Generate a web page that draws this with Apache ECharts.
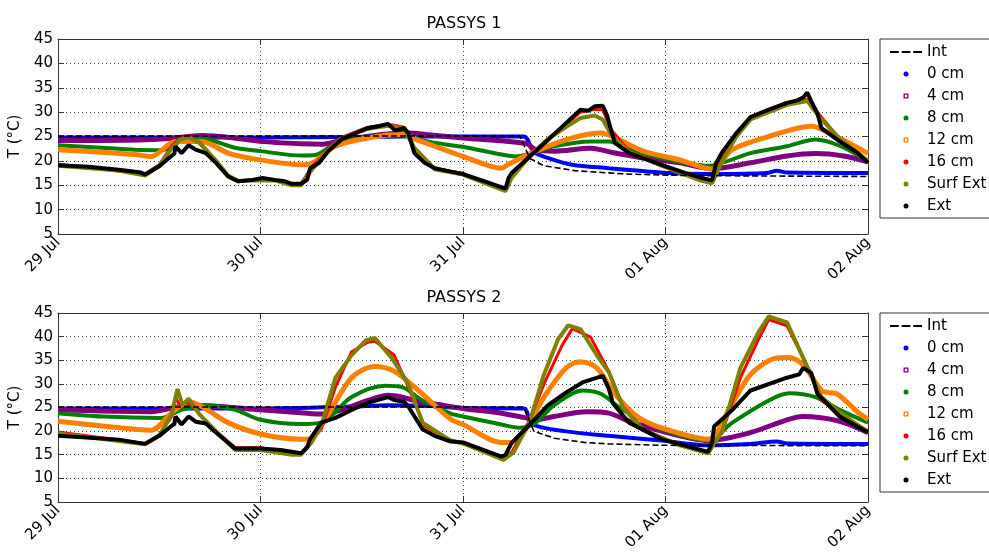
<!DOCTYPE html>
<html>
<head>
<meta charset="utf-8">
<script src="https://cdn.jsdelivr.net/npm/echarts@6/dist/echarts.min.js"></script>
<style>html,body{margin:0;padding:0;background:#fff}#c{width:989px;height:553px}</style>
</head>
<body>
<div id="c"></div>
<script>
// ---- Data (x = days since 29 Jul 00:00, y = °C) ----
const xTickLabels = ['29 Jul', '30 Jul', '31 Jul', '01 Aug', '02 Aug'];
const titles = ['PASSYS 1', 'PASSYS 2'];
const seriesNames = ['Int', '0 cm', '4 cm', '8 cm', '12 cm', '16 cm', 'Surf Ext', 'Ext'];

// PASSYS 1
const p1Int = [[0,25.1],[2.28,25.1],[2.33,20.5],[2.4,19.0],[2.55,18.0],[2.8,17.3],[3.1,17.0],[3.5,16.9],[4,16.8]];
const p1Cm0 = [[0,24.8],[1.0,24.8],[1.5,24.9],[1.7,25.0],[2.0,25.0],[2.3,25.0],[2.35,21.8],[2.42,20.6],[2.54,19.2],[2.72,18.5],[2.89,17.9],[3.07,17.4],[3.24,17.3],[3.5,17.5],[3.55,18.0],[3.6,17.6],[4.0,17.5]];
const p1Cm4 = [[0,24.2],[0.4,24.3],[0.55,24.6],[0.71,25.2],[0.85,24.8],[1.0,24.0],[1.2,23.5],[1.3,23.4],[1.4,24.2],[1.6,25.4],[1.73,25.7],[1.84,25.3],[2.0,24.7],[2.31,23.6],[2.36,22.3],[2.45,22.0],[2.63,22.6],[2.75,21.6],[2.89,20.6],[3.07,19.6],[3.23,18.4],[3.42,19.6],[3.6,21.0],[3.74,21.5],[3.88,21.0],[4.0,19.8]];
const p1Cm8 = [[0,23.2],[0.38,22.3],[0.51,22.2],[0.645,24.6],[0.74,24.4],[0.875,22.7],[1.0,22.0],[1.2,21.1],[1.27,21.2],[1.37,23.5],[1.53,24.9],[1.7,25.4],[1.8,24.2],[1.94,23.2],[2.0,22.9],[2.19,21.3],[2.26,20.9],[2.33,21.5],[2.45,23.0],[2.63,24.0],[2.72,24.0],[2.82,22.4],[2.98,20.6],[3.21,19.0],[3.42,21.6],[3.6,23.0],[3.74,24.4],[3.86,23.1],[4.0,19.9]];
const p1Cm12 = [[0,22.3],[0.38,21.3],[0.46,20.9],[0.58,24.0],[0.71,24.0],[0.84,21.6],[1.0,20.2],[1.2,19.2],[1.24,19.3],[1.37,23.0],[1.53,24.7],[1.7,25.4],[1.78,24.2],[1.94,21.8],[2.0,20.9],[2.19,18.5],[2.22,19.2],[2.36,22.0],[2.54,24.7],[2.68,25.7],[2.75,24.8],[2.89,22.0],[3.07,20.2],[3.23,18.3],[3.33,22.3],[3.51,25.0],[3.72,27.1],[3.81,25.7],[4.0,21.5]];
const p1Cm16 = [[0,19.3],[0.43,17.3],[0.5,19.2],[0.56,23.0],[0.6,24.6],[0.645,25.0],[0.7,23.8],[0.78,20.2],[0.84,17.0],[0.89,16.0],[1.07,16.2],[1.155,15.3],[1.2,15.3],[1.25,18.5],[1.335,22.5],[1.4,24.8],[1.53,26.9],[1.63,27.5],[1.71,26.9],[1.76,22.8],[1.86,18.5],[2.0,17.4],[2.21,14.2],[2.24,17.0],[2.33,21.2],[2.42,24.6],[2.51,27.6],[2.58,30.0],[2.65,30.6],[2.69,30.5],[2.73,26.5],[2.82,22.0],[2.98,19.2],[3.17,16.5],[3.23,15.9],[3.28,20.5],[3.35,25.5],[3.42,29.0],[3.6,32.0],[3.7,32.6],[3.75,30.0],[3.86,24.5],[4.0,20.0]];
const p1Surf = [[0,19.0],[0.3,18.0],[0.43,17.0],[0.5,19.0],[0.56,22.5],[0.6,24.3],[0.645,24.8],[0.7,23.6],[0.78,20.0],[0.84,17.0],[0.89,15.8],[0.96,16.0],[1.07,16.0],[1.155,15.0],[1.2,15.0],[1.25,18.0],[1.335,22.2],[1.4,24.6],[1.53,26.6],[1.63,27.2],[1.71,26.6],[1.76,22.5],[1.86,18.3],[2.0,17.2],[2.21,13.8],[2.24,16.5],[2.33,21.0],[2.42,24.5],[2.51,27.0],[2.58,28.8],[2.65,29.3],[2.69,28.5],[2.73,25.5],[2.82,21.8],[2.98,19.0],[3.17,16.0],[3.23,15.4],[3.28,20.0],[3.35,25.0],[3.42,28.5],[3.6,31.5],[3.7,32.3],[3.75,29.5],[3.86,24.5],[4.0,20.0]];
const p1Ext = [[0,19.1],[0.15,18.8],[0.3,18.2],[0.41,17.6],[0.43,17.2],[0.5,18.9],[0.56,21.0],[0.575,21.5],[0.58,23.0],[0.61,21.6],[0.63,22.5],[0.645,23.2],[0.68,22.3],[0.73,21.6],[0.78,19.6],[0.84,16.8],[0.89,15.8],[0.96,16.1],[1.01,16.5],[1.07,16.1],[1.12,15.8],[1.155,15.3],[1.2,15.3],[1.23,16.1],[1.245,18.5],[1.29,19.6],[1.335,22.0],[1.4,24.4],[1.47,25.7],[1.53,26.7],[1.58,27.1],[1.63,27.6],[1.665,26.2],[1.69,26.5],[1.71,26.7],[1.73,25.7],[1.76,21.6],[1.81,19.6],[1.86,18.5],[1.94,17.8],[2.0,17.3],[2.1,15.9],[2.21,14.3],[2.225,16.5],[2.24,17.5],[2.33,20.9],[2.42,24.3],[2.51,27.8],[2.58,30.5],[2.62,30.3],[2.65,31.2],[2.69,31.3],[2.71,29.5],[2.73,26.5],[2.75,23.7],[2.82,21.6],[2.98,19.2],[3.1,17.5],[3.17,16.6],[3.23,16.0],[3.25,19.5],[3.28,21.8],[3.35,25.7],[3.42,29.0],[3.51,30.5],[3.6,31.9],[3.65,32.4],[3.68,33.0],[3.7,34.0],[3.72,32.2],[3.75,29.8],[3.77,26.7],[3.86,24.0],[3.95,21.6],[4.0,19.6]];

// PASSYS 2
const p2Int = [[0,25.1],[2.3,25.1],[2.35,20.0],[2.45,18.5],[2.6,17.6],[2.72,17.3],[2.98,17.0],[4.0,16.9]];
const p2Cm0 = [[0,24.8],[1.0,24.8],[1.45,25.2],[1.63,25.5],[1.84,25.3],[2.0,24.9],[2.3,24.8],[2.34,21.5],[2.5,20.0],[2.72,19.0],[2.98,18.0],[3.21,17.0],[3.42,17.3],[3.55,17.8],[3.6,17.4],[4.0,17.3]];
const p2Cm4 = [[0,24.5],[0.46,24.1],[0.645,25.5],[0.8,25.2],[1.0,24.5],[1.2,23.9],[1.3,23.6],[1.4,24.5],[1.53,26.5],[1.63,27.6],[1.7,27.2],[1.78,26.2],[1.84,25.9],[2.0,24.8],[2.19,23.8],[2.31,22.8],[2.36,22.4],[2.45,23.1],[2.61,24.1],[2.72,23.8],[2.82,22.1],[2.98,20.0],[3.21,18.0],[3.42,19.7],[3.6,22.4],[3.68,23.1],[3.86,22.1],[4.0,19.7]];
const p2Cm8 = [[0,23.8],[0.22,23.1],[0.51,22.8],[0.61,24.5],[0.74,25.5],[0.875,24.5],[1.0,22.4],[1.2,21.5],[1.3,21.8],[1.45,27.2],[1.615,29.6],[1.7,29.3],[1.8,26.5],[1.94,23.7],[2.0,23.1],[2.19,21.4],[2.28,20.7],[2.36,21.8],[2.45,25.5],[2.59,28.6],[2.68,27.9],[2.79,24.5],[2.98,20.4],[3.21,18.0],[3.33,21.8],[3.51,26.5],[3.61,28.0],[3.74,27.2],[3.86,24.5],[4.0,21.8]];
const p2Cm12 = [[0,22.1],[0.22,21.1],[0.46,20.2],[0.56,23.8],[0.645,26.2],[0.71,25.2],[0.84,21.8],[1.0,19.4],[1.2,18.3],[1.24,18.3],[1.3,21.1],[1.45,31.3],[1.565,33.7],[1.66,32.7],[1.78,28.6],[1.94,22.5],[2.0,21.4],[2.19,17.6],[2.24,17.6],[2.31,20.4],[2.4,27.2],[2.51,33.4],[2.58,34.7],[2.66,33.4],[2.75,27.9],[2.86,23.1],[2.98,20.7],[3.21,18.3],[3.33,25.9],[3.42,32.0],[3.54,35.4],[3.61,35.6],[3.68,34.0],[3.77,28.6],[3.8,28.2],[3.84,28.0],[3.86,27.5],[3.9,26.0],[3.95,24.0],[4.0,22.5]];
const p2Cm16 = [[0,19.8],[0.43,17.4],[0.5,19.2],[0.56,23.0],[0.58,27.2],[0.6,25.5],[0.645,26.2],[0.7,23.5],[0.78,20.0],[0.875,16.5],[1.0,16.5],[1.155,15.3],[1.2,15.3],[1.25,18.0],[1.3,20.4],[1.37,29.3],[1.45,36.8],[1.53,38.8],[1.565,39.0],[1.66,36.1],[1.73,29.3],[1.81,21.1],[1.94,18.0],[2.0,17.6],[2.19,14.6],[2.24,15.5],[2.33,22.4],[2.4,30.0],[2.49,38.2],[2.54,41.7],[2.63,39.9],[2.72,32.7],[2.79,25.2],[2.89,20.4],[3.07,17.0],[3.21,15.6],[3.28,19.7],[3.37,31.3],[3.46,39.5],[3.51,43.6],[3.6,42.3],[3.68,35.5],[3.77,26.5],[3.86,23.8],[4.0,20.0]];
const p2Surf = [[0,19.5],[0.43,17.2],[0.5,19.0],[0.56,23.5],[0.59,28.9],[0.615,25.5],[0.645,26.9],[0.7,23.5],[0.78,20.0],[0.875,16.0],[1.0,16.0],[1.155,15.0],[1.2,15.0],[1.25,17.5],[1.3,21.1],[1.37,31.3],[1.45,36.1],[1.52,39.2],[1.565,39.7],[1.65,35.4],[1.73,30.0],[1.8,21.8],[1.94,18.0],[2.0,17.4],[2.2,13.9],[2.25,15.5],[2.33,22.0],[2.4,32.0],[2.47,39.5],[2.52,42.4],[2.58,41.6],[2.66,36.1],[2.72,32.5],[2.79,25.0],[2.89,20.2],[3.07,17.0],[3.21,15.3],[3.28,20.0],[3.37,33.4],[3.46,41.0],[3.51,44.3],[3.6,43.0],[3.68,35.5],[3.77,27.2],[3.86,24.0],[4.0,19.7]];
const p2Ext = [[0,19.0],[0.3,18.2],[0.43,17.3],[0.5,19.0],[0.56,21.1],[0.575,21.5],[0.58,23.1],[0.61,21.4],[0.645,23.1],[0.68,22.0],[0.73,21.6],[0.78,19.7],[0.875,16.3],[1.0,16.3],[1.1,16.0],[1.2,15.3],[1.23,16.5],[1.245,18.3],[1.3,21.8],[1.37,22.8],[1.45,24.5],[1.53,26.0],[1.63,27.2],[1.66,26.6],[1.71,26.2],[1.73,25.2],[1.8,20.4],[1.86,19.0],[1.94,17.8],[2.0,17.6],[2.19,14.6],[2.21,15.0],[2.24,17.5],[2.33,21.4],[2.42,25.5],[2.51,28.2],[2.59,30.3],[2.69,31.7],[2.72,29.0],[2.74,25.9],[2.82,21.8],[2.98,18.3],[3.21,15.6],[3.23,17.5],[3.24,21.0],[3.33,24.5],[3.42,28.6],[3.6,31.3],[3.66,32.0],[3.68,33.4],[3.72,32.3],[3.75,27.9],[3.86,23.1],[4.0,19.7]];

const plotData = [
  [p1Int, p1Cm0, p1Cm4, p1Cm8, p1Cm12, p1Cm16, p1Surf, p1Ext],
  [p2Int, p2Cm0, p2Cm4, p2Cm8, p2Cm12, p2Cm16, p2Surf, p2Ext]
];

// ---- Styles ----
const FONT = 'DejaVu Sans';
const colors = ['#000000', '#0000FF', '#800080', '#008000', '#FF8000', '#FF0000', '#808000', '#000000'];
const widths = [1.6, 4, 5, 4, 5, 3, 4, 4];
const zs = [10, 2, 3, 4, 5, 6, 7, 8];
const icons = [
  'path://M0,0h9v2h-9z M12,0h9v2h-9z M24,0h9v2h-9z',
  'circle',
  'path://M0,0h6v6h-6z M1.6,1.6v2.8h2.8v-2.8z',
  'circle',
  'path://M0,0h6v6h-6z M1.6,1.6v2.8h2.8v-2.8z',
  'circle', 'circle', 'circle'
];

const grids = [
  { left: 56, top: 39, width: 812, height: 195 },
  { left: 56, top: 313, width: 812, height: 195 }
];
const axisColor = '#333';

const xAxes = [], yAxes = [], series = [], legends = [], titleOpts = [];
grids.forEach((g, gi) => {
  xAxes.push({
    gridIndex: gi, type: 'value', position: 'bottom', min: 0, max: 4, interval: 1,
    axisLine: { onZero: false, lineStyle: { color: axisColor, width: 1 } },
    axisTick: { inside: true, length: 6, lineStyle: { color: axisColor } },
    axisLabel: { rotate: 45, margin: 6, fontFamily: FONT, fontSize: 15, color: '#000',
      formatter: v => xTickLabels[Math.round(v)] },
    splitLine: { show: true, lineStyle: { type: [1, 3], color: '#444', width: 1 } }
  });
  xAxes.push({
    gridIndex: gi, type: 'value', position: 'top', min: 0, max: 4, interval: 1,
    axisLine: { onZero: false, lineStyle: { color: axisColor, width: 1 } },
    axisTick: { inside: true, length: 6, lineStyle: { color: axisColor } },
    axisLabel: { show: false }, splitLine: { show: false }
  });
  yAxes.push({
    gridIndex: gi, type: 'value', position: 'left', min: 5, max: 45, interval: 5,
    name: 'T (°C)', nameLocation: 'middle', nameGap: 23,
    nameTextStyle: { fontFamily: FONT, fontSize: 15, color: '#000' },
    axisLine: { onZero: false, lineStyle: { color: axisColor, width: 1 } },
    axisTick: { inside: true, length: 6, lineStyle: { color: axisColor } },
    axisLabel: { margin: 5, fontFamily: FONT, fontSize: 15, color: '#000' },
    splitLine: { show: true, lineStyle: { type: [1, 3], color: '#444', width: 1 } }
  });
  yAxes.push({
    gridIndex: gi, type: 'value', position: 'right', min: 5, max: 45, interval: 5,
    axisLine: { onZero: false, lineStyle: { color: axisColor, width: 1 } },
    axisTick: { inside: true, length: 6, lineStyle: { color: axisColor } },
    axisLabel: { show: false }, splitLine: { show: false }
  });
  seriesNames.forEach((name, si) => {
    series.push({
      name: name, type: 'line',
      xAxisIndex: gi * 2, yAxisIndex: gi * 2,
      data: plotData[gi][si],
      showSymbol: false, symbol: 'none',
      smooth: si >= 1 && si <= 4 ? 0.3 : false,
      color: colors[si],
      lineStyle: { color: colors[si], width: widths[si], type: si === 0 ? [6, 3] : 'solid' },
      z: zs[si], animation: false, silent: true
    });
  });
  legends.push({
    left: 880, top: g.top, orient: 'vertical',
    padding: [5, 12, 4, 10], itemGap: 6, itemWidth: 32, itemHeight: 5,
    borderColor: '#333', borderWidth: 1, backgroundColor: '#fff',
    itemStyle: { borderWidth: 0 },
    textStyle: { fontFamily: FONT, fontSize: 15, lineHeight: 16, color: '#000' },
    data: seriesNames.map((n, i) => ({ name: n, icon: icons[i] })),
    selectedMode: false
  });
  titleOpts.push({
    text: titles[gi], left: 459, textAlign: 'center', top: g.top - 28,
    textStyle: { fontFamily: FONT, fontSize: 16, fontWeight: 'normal', color: '#000' }
  });
});

const chart = echarts.init(document.getElementById('c'), null, { renderer: 'canvas' });
chart.setOption({
  animation: false,
  backgroundColor: '#fff',
  title: titleOpts,
  legend: legends,
  grid: grids,
  xAxis: xAxes,
  yAxis: yAxes,
  series: series
});
</script>
</body>
</html>
